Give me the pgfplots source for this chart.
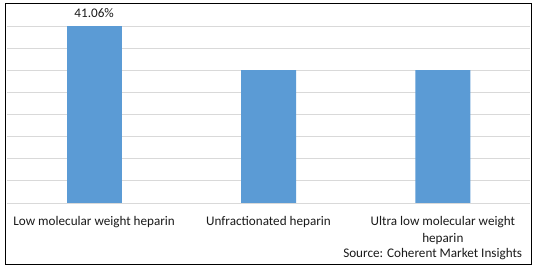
\documentclass[border=0pt]{standalone}
\usepackage{pgfplots}
\pgfplotsset{compat=1.18}
\usepackage{fontspec}
\setmainfont{Carlito}
\definecolor{barblue}{HTML}{5B9BD5}
\definecolor{gridgray}{HTML}{D9D9D9}
\definecolor{txt}{HTML}{1A1A1A}
\begin{document}
\begin{tikzpicture}
\useasboundingbox (0,0) rectangle (538bp,272bp);
\draw[fill=white,draw=black,line width=0.9bp] (5.5bp,7.5bp) rectangle (531bp,268.5bp);
\begin{axis}[
  at={(7bp,69bp)}, anchor=south west,
  scale only axis, width=523bp, height=177bp,
  xmin=-0.5, xmax=2.5, ymin=0, ymax=41.06,
  ytick distance=5.1325,
  yticklabels={}, ymajorgrids,
  grid style={gridgray, line width=0.8bp},
  axis line style={draw=none},
  major tick length=0pt,
  xtick={0,1,2},
  xticklabels={Low molecular weight heparin, Unfractionated heparin, {Ultra low molecular weight\\heparin}},
  xticklabel style={align=center, font=\fontsize{13.2}{16.5}\selectfont, text=txt, anchor=north, inner sep=0pt, yshift=-13.5bp},
  ybar, bar width=55bp, bar shift=0pt,
  clip=false,
]
\addplot[fill=barblue, draw=none, nodes near coords={41.06\%}, every node near coord/.style={font=\fontsize{13.2}{15}\selectfont, text=txt, anchor=base, inner sep=0pt, yshift=8.5bp}] coordinates {(0,41.06)};
\addplot[fill=barblue, draw=none] coordinates {(1,30.795) (2,30.795)};
\end{axis}
\node[anchor=base east, inner sep=0pt, font=\fontsize{13.2}{15}\selectfont, text=txt] at (522.3bp,14.3bp) {Source: Coherent Market Insights};
\end{tikzpicture}
\end{document}
